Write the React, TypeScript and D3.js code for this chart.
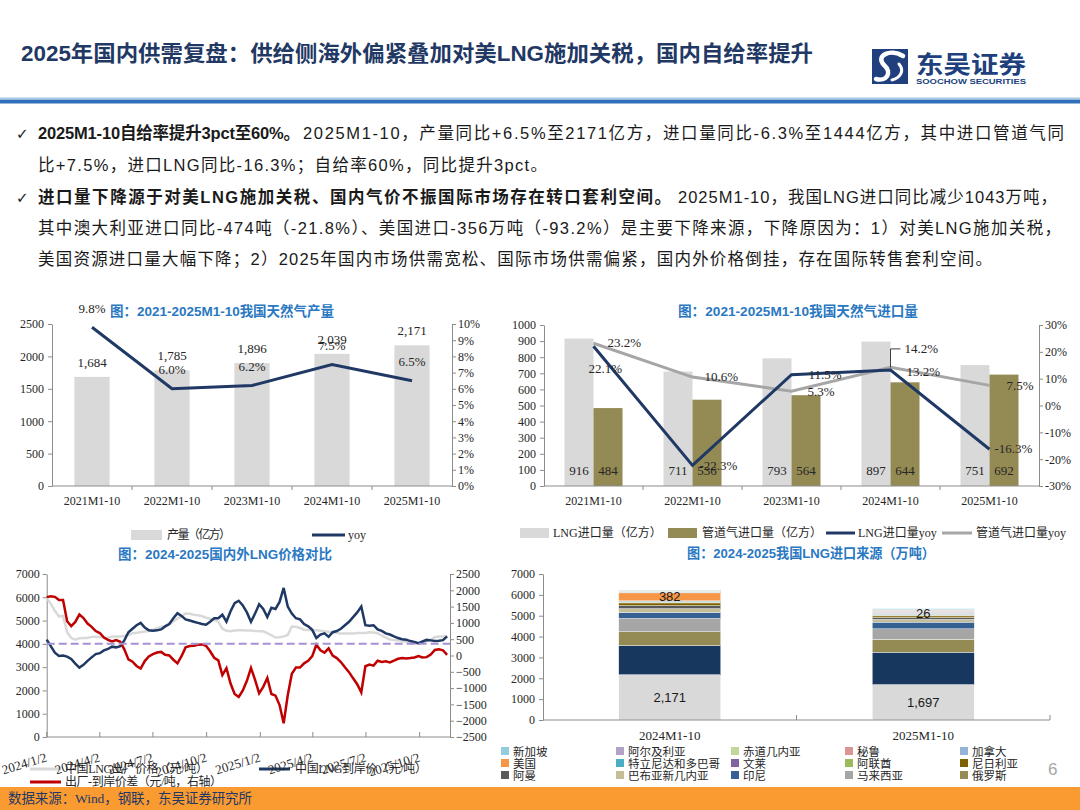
import React, { useEffect, useRef } from "react";
import * as d3 from "d3";

const SERIF = "'Liberation Serif', 'Times New Roman', 'Noto Sans CJK SC', serif";
const SANS = "'Liberation Sans', Arial, 'Noto Sans CJK SC', sans-serif";
const INK = "#262626";
const AXIS = "#8c8c8c";
const NAVY = "#1f3864";
const TITLE_BLUE = "#2a78c2";
const LOGO = "#203f7d";
const plain = d3.format("d");

// ---------- page text
const pageTitle = "2025年国内供需复盘：供给侧海外偏紧叠加对美LNG施加关税，国内自给率提升";
const bullet1Bold = "2025M1-10自给率提升3pct至60%。";
const bullet1Rest = "2025M1-10，产量同比+6.5%至2171亿方，进口量同比-6.3%至1444亿方，其中进口管道气同";
const bullet1Next = "比+7.5%，进口LNG同比-16.3%；自给率60%，同比提升3pct。";
const bullet2Bold = "进口量下降源于对美LNG施加关税、国内气价不振国际市场存在转口套利空间。";
const bullet2Rest = "2025M1-10，我国LNG进口同比减少1043万吨，";
const bullet2Next = "其中澳大利亚进口同比-474吨（-21.8%）、美国进口-356万吨（-93.2%）是主要下降来源，下降原因为：1）对美LNG施加关税，";
const bullet2Last = "美国资源进口量大幅下降；2）2025年国内市场供需宽松、国际市场供需偏紧，国内外价格倒挂，存在国际转售套利空间。";
const sourceNote = "数据来源：Wind，钢联，东吴证券研究所";

// ---------- chart 1: output
const years = ["2021M1-10", "2022M1-10", "2023M1-10", "2024M1-10", "2025M1-10"];
const output = [1684, 1785, 1896, 2039, 2171];
const outputYoy = [9.8, 6.0, 6.2, 7.5, 6.5];

// ---------- chart 2: imports
const lngImport = [916, 711, 793, 897, 751];
const pipeImport = [484, 536, 564, 644, 692];
const lngYoy = [22.1, -22.3, 11.5, 13.2, -16.3];
const pipeYoy = [23.2, 10.6, 5.3, 14.2, 7.5];

// ---------- chart 3: prices (weekly samples)
const priceDates = [
  "2024-01-02", "2024-01-09", "2024-01-16", "2024-01-23", "2024-01-30", "2024-02-06", "2024-02-13", "2024-02-20", "2024-02-27", "2024-03-05",
  "2024-03-12", "2024-03-19", "2024-03-26", "2024-04-02", "2024-04-09", "2024-04-16", "2024-04-23", "2024-04-30", "2024-05-07", "2024-05-14",
  "2024-05-21", "2024-05-28", "2024-06-04", "2024-06-11", "2024-06-18", "2024-06-25", "2024-07-02", "2024-07-09", "2024-07-16", "2024-07-23",
  "2024-07-30", "2024-08-06", "2024-08-13", "2024-08-20", "2024-08-27", "2024-09-03", "2024-09-10", "2024-09-17", "2024-09-24", "2024-10-01",
  "2024-10-08", "2024-10-15", "2024-10-22", "2024-10-29", "2024-11-05", "2024-11-12", "2024-11-19", "2024-11-26", "2024-12-03", "2024-12-10",
  "2024-12-17", "2024-12-24", "2024-12-31", "2025-01-07", "2025-01-14", "2025-01-21", "2025-01-28", "2025-02-04", "2025-02-11", "2025-02-18",
  "2025-02-25", "2025-03-04", "2025-03-11", "2025-03-18", "2025-03-25", "2025-04-01", "2025-04-08", "2025-04-15", "2025-04-22", "2025-04-29",
  "2025-05-06", "2025-05-13", "2025-05-20", "2025-05-27", "2025-06-03", "2025-06-10", "2025-06-17", "2025-06-24", "2025-07-01", "2025-07-08",
  "2025-07-15", "2025-07-22", "2025-07-29", "2025-08-05", "2025-08-12", "2025-08-19", "2025-08-26", "2025-09-02", "2025-09-09", "2025-09-16",
  "2025-09-23", "2025-09-30", "2025-10-07", "2025-10-14", "2025-10-21", "2025-10-28", "2025-11-04", "2025-11-11", "2025-11-18",
];
const exFactory = [
  5970, 5720, 5420, 5180, 5200, 4500, 4250, 4180, 4240, 4250,
  4250, 4300, 4310, 4290, 4270, 4260, 4310, 4320, 4320, 4340,
  4380, 4460, 4480, 4500, 4530, 4550, 4600, 4670, 4730, 4770,
  4850, 4970, 5080, 5180, 5300, 5290, 5250, 5230, 5190, 5120,
  5080, 5030, 4950, 4650, 4560, 4540, 4570, 4580, 4580, 4575,
  4570, 4550, 4540, 4540, 4460, 4370, 4270, 4280, 4320, 4380,
  4740, 4730, 4680, 4610, 4590, 4580, 4580, 4560, 4540, 4520,
  4500, 4470, 4450, 4440, 4440, 4450, 4470, 4470, 4470, 4500,
  4490, 4460, 4360, 4270, 4190, 4160, 4150, 4120, 4090, 4040,
  4020, 4010, 4040, 4120, 4180, 4290, 4320, 4320, 4340,
];
const landed = [
  4180, 3900, 3620, 3480, 3500, 3450, 3350, 3150, 2980, 3100,
  3270, 3420, 3560, 3600, 3720, 3780, 3880, 3850, 3900, 4150,
  4500, 4650, 4800, 4900, 4700, 4580, 4560, 4580, 4620, 4750,
  4850, 5100, 5320, 5200, 5050, 5000, 4950, 4900, 4850, 4820,
  4950, 5100, 5100, 5250, 4950, 5400, 5750, 5850, 5650, 5350,
  4950, 5300, 5700, 5500, 5150, 5550, 5500, 5800, 6400, 5600,
  5300, 5100, 5050, 4850, 4750, 4600, 4250, 4400, 4450, 4300,
  4500, 4550, 4650, 4800, 4950, 5150, 5350, 5600, 4800, 4780,
  4800, 4620, 4560, 4450, 4400, 4320, 4250, 4200, 4180, 4120,
  4080, 4030, 4100, 4170, 4150, 4120, 4130, 4160, 4320,
];
const priceRefLevel = 4000;
const priceTickDates = ["2024-01-02", "2024-04-02", "2024-07-02", "2024-10-02", "2025-01-02", "2025-04-02", "2025-07-02", "2025-10-02"];
const priceTickLabels = ["2024/1/2", "2024/4/2", "2024/7/2", "2024/10/2", "2025/1/2", "2025/4/2", "2025/7/2", "2025/10/2"];

// ---------- chart 4: LNG sources (stack order bottom -> top)
const sourcePeriods = ["2024M1-10", "2025M1-10"];
const sources = ["澳大利亚", "卡塔尔", "俄罗斯", "马来西亚", "印尼", "巴布亚新几内亚", "阿曼", "尼日利亚", "阿联酋", "文莱", "特立尼达和多巴哥", "美国", "加拿大", "秘鲁", "赤道几内亚", "阿尔及利亚", "新加坡"];
const sources2024 = [2171, 1400, 657, 640, 290, 180, 145, 130, 40, 30, 30, 382, 40, 20, 30, 20, 20];
const sources2025 = [1697, 1550, 624, 500, 320, 130, 90, 80, 40, 30, 20, 26, 60, 50, 40, 40, 40];
const sourceColors = ["#d9d9d9", "#17375e", "#948a54", "#a6a6a6", "#376092", "#c4bd97", "#595959", "#7f6000", "#9bbb59", "#8064a2", "#4bacc6", "#f79646", "#95b3d7", "#d99694", "#c3d69b", "#b3a2c7", "#93cddd"];
const labelledSources = ["澳大利亚", "美国"];

type G = d3.Selection<any, unknown, null, undefined>;

function text(g: G, x: number, y: number, s: string, o: any = {}) {
  const t = g.append("text").attr("x", x).attr("y", y).text(s)
    .attr("font-size", o.size ?? 12)
    .attr("fill", o.fill ?? INK)
    .attr("font-family", o.family ?? SERIF)
    .attr("text-anchor", o.anchor ?? "start");
  if (o.weight) t.attr("font-weight", o.weight);
  if (o.len) t.attr("textLength", o.len).attr("lengthAdjust", o.adjust ?? "spacing");
  return t;
}

function chartTitle(g: G, x: number, y: number, s: string, len: number) {
  text(g, x, y, s, { size: 13.5, fill: TITLE_BLUE, family: SANS, weight: "bold", len, adjust: "spacingAndGlyphs" });
}

function styleAxis(a: G, size = 12) {
  a.attr("font-family", SERIF).attr("font-size", size);
  a.select(".domain").attr("stroke", AXIS);
  a.selectAll(".tick line").attr("stroke", AXIS);
  a.selectAll(".tick text").attr("fill", INK);
}

function drawHeader(svg: G) {
  const g = svg.append("g");
  text(g, 21, 61, pageTitle, { size: 22, weight: "bold", fill: NAVY, family: SANS, len: 792, adjust: "spacingAndGlyphs" });

  // logo
  g.append("rect").attr("x", 872).attr("y", 49).attr("width", 36).attr("height", 35).attr("fill", LOGO);
  g.append("path").attr("d", "M903,56 C890,48 875,56 884,65 C893,73 886,82 876,79")
    .attr("fill", "none").attr("stroke", "#fff").attr("stroke-width", 4.5).attr("stroke-linecap", "round");
  g.append("path").attr("d", "M899,64 C905,71 900,78 892,80")
    .attr("fill", "none").attr("stroke", "#fff").attr("stroke-width", 3).attr("stroke-linecap", "round");
  text(g, 916, 73, "东吴证券", { size: 24, weight: "bold", fill: LOGO, family: SANS, len: 110, adjust: "spacingAndGlyphs" });
  text(g, 916, 84, "SOOCHOW SECURITIES", { size: 8, weight: "bold", fill: LOGO, family: SANS, len: 110, adjust: "spacingAndGlyphs" });

  g.append("rect").attr("x", 0).attr("y", 97.5).attr("width", 1080).attr("height", 1.5).attr("fill", "#a9c8ea");
  g.append("rect").attr("x", 0).attr("y", 99.5).attr("width", 1080).attr("height", 4).attr("fill", "#2e6fba");

  // bullets
  const body = { size: 16.5, family: SANS, fill: "#1a1a1a" };
  text(g, 16, 139, "✓", { ...body, family: "'DejaVu Sans', sans-serif", size: 15 });
  text(g, 16, 203, "✓", { ...body, family: "'DejaVu Sans', sans-serif", size: 15 });
  text(g, 38, 139, bullet1Bold, { ...body, weight: "bold", len: 262 });
  text(g, 303, 139, bullet1Rest, { ...body, len: 761 });
  text(g, 38, 171, bullet1Next, { ...body, len: 509 });
  text(g, 38, 203, bullet2Bold, { ...body, weight: "bold", len: 633 });
  text(g, 678, 203, bullet2Rest, { ...body, len: 379 });
  text(g, 38, 234, bullet2Next, { ...body, len: 1023 });
  text(g, 38, 265, bullet2Last, { ...body, len: 954 });

  // footer
  g.append("rect").attr("x", 0).attr("y", 787).attr("width", 1080).attr("height", 23).attr("fill", "#f99b30");
  text(g, 8, 803, sourceNote, { size: 13.5, fill: NAVY, len: 244 });
  text(g, 1048, 775, "6", { size: 17, fill: "#a6a6a6", family: SANS });
}

function drawOutput(svg: G) {
  const g = svg.append("g");
  const x = d3.scaleBand<string>().domain(years).range([52, 452]);
  const y = d3.scaleLinear().domain([0, 2500]).range([486, 324]);
  const yr = d3.scaleLinear().domain([0, 10]).range([486, 324]);
  const cx = (d: string) => (x(d) as number) + x.bandwidth() / 2;
  const bw = x.bandwidth() * 0.44;

  chartTitle(g, 110, 316, "图：2021-2025M1-10我国天然气产量", 224);

  g.selectAll("rect.bar").data(years).join("rect")
    .attr("x", (d) => cx(d) - bw / 2).attr("width", bw)
    .attr("y", (_, i) => y(output[i])).attr("height", (_, i) => 486 - y(output[i]))
    .attr("fill", "#d9d9d9");

  styleAxis(g.append("g").attr("transform", "translate(52,0)")
    .call(d3.axisLeft(y).tickValues(d3.range(0, 2501, 500)).tickFormat(plain as any).tickSize(4).tickSizeOuter(0).tickPadding(4)) as any);
  styleAxis(g.append("g").attr("transform", "translate(452,0)")
    .call(d3.axisRight(yr).tickValues(d3.range(0, 11, 1)).tickFormat((d) => `${d}%`).tickSize(4).tickSizeOuter(0).tickPadding(2)) as any);

  g.append("line").attr("x1", 52).attr("x2", 452).attr("y1", 486).attr("y2", 486).attr("stroke", AXIS);
  years.slice(1).forEach((d) => {
    g.append("line").attr("x1", x(d)!).attr("x2", x(d)!).attr("y1", 486).attr("y2", 490).attr("stroke", AXIS);
  });
  years.forEach((d) => text(g, cx(d), 505, d, { anchor: "middle" }));

  const line = d3.line<number>().x((_, i) => cx(years[i])).y((v) => yr(v));
  g.append("path").attr("d", line(outputYoy)!).attr("fill", "none").attr("stroke", NAVY).attr("stroke-width", 3);

  years.forEach((d, i) => {
    text(g, cx(d), y(output[i]) - 10, d3.format(",")(output[i]), { size: 13, anchor: "middle" });
    text(g, cx(d), yr(outputYoy[i]) - 14.5, `${outputYoy[i].toFixed(1)}%`, { size: 13, anchor: "middle" });
  });

  // legend
  g.append("rect").attr("x", 131).attr("y", 530).attr("width", 31).attr("height", 10).attr("fill", "#d9d9d9");
  text(g, 167, 539, "产量（亿方）", { size: 12, len: 64 });
  g.append("line").attr("x1", 312).attr("x2", 345).attr("y1", 535).attr("y2", 535).attr("stroke", NAVY).attr("stroke-width", 3);
  text(g, 348, 539, "yoy", { size: 12 });
}

function drawImport(svg: G) {
  const g = svg.append("g");
  const x = d3.scaleBand<string>().domain(years).range([544, 1039]);
  const y = d3.scaleLinear().domain([0, 1000]).range([486, 325]);
  const yr = d3.scaleLinear().domain([-30, 30]).range([486, 325]);
  const cx = (d: string) => (x(d) as number) + x.bandwidth() / 2;
  const bw = 29;

  chartTitle(g, 678, 316, "图：2021-2025M1-10我国天然气进口量", 240);

  g.selectAll("rect.lng").data(years).join("rect")
    .attr("x", (d) => cx(d) - bw).attr("width", bw)
    .attr("y", (_, i) => y(lngImport[i])).attr("height", (_, i) => 486 - y(lngImport[i]))
    .attr("fill", "#d9d9d9");
  g.selectAll("rect.pipe").data(years).join("rect")
    .attr("x", (d) => cx(d)).attr("width", bw)
    .attr("y", (_, i) => y(pipeImport[i])).attr("height", (_, i) => 486 - y(pipeImport[i]))
    .attr("fill", "#948a54");

  styleAxis(g.append("g").attr("transform", "translate(544,0)")
    .call(d3.axisLeft(y).tickValues(d3.range(0, 1001, 100)).tickFormat(plain as any).tickSize(4).tickSizeOuter(0).tickPadding(4)) as any);
  styleAxis(g.append("g").attr("transform", "translate(1039,0)")
    .call(d3.axisRight(yr).tickValues(d3.range(-30, 31, 10)).tickFormat((d) => `${d}%`).tickSize(4).tickSizeOuter(0).tickPadding(2)) as any);

  g.append("line").attr("x1", 544).attr("x2", 1039).attr("y1", 486).attr("y2", 486).attr("stroke", AXIS);
  years.slice(1).forEach((d) => {
    g.append("line").attr("x1", x(d)!).attr("x2", x(d)!).attr("y1", 486).attr("y2", 490).attr("stroke", AXIS);
  });
  years.forEach((d) => text(g, cx(d), 505, d, { anchor: "middle" }));

  years.forEach((d, i) => {
    text(g, cx(d) - bw / 2, 475, String(lngImport[i]), { size: 13, anchor: "middle" });
    text(g, cx(d) + bw / 2, 475, String(pipeImport[i]), { size: 13, anchor: "middle" });
  });

  const line = (vals: number[]) => d3.line<number>().x((_, i) => cx(years[i])).y((v) => yr(v))(vals)!;
  g.append("path").attr("d", line(pipeYoy)).attr("fill", "none").attr("stroke", "#a6a6a6").attr("stroke-width", 3);
  g.append("path").attr("d", line(lngYoy)).attr("fill", "none").attr("stroke", NAVY).attr("stroke-width", 3);

  // label offsets (dx, dy from the point)
  const lngOff = [[-5, 27], [7, 5], [17, 4], [16, 5.5], [5, 4]];
  const pipeOff = [[14, 4], [12, 4], [16, 5], [14, -14], [17, 4.5]];
  years.forEach((d, i) => {
    const px = cx(d);
    text(g, px + lngOff[i][0], yr(lngYoy[i]) + lngOff[i][1], `${lngYoy[i].toFixed(1)}%`, { size: 13 });
    text(g, px + pipeOff[i][0], yr(pipeYoy[i]) + pipeOff[i][1], `${pipeYoy[i].toFixed(1)}%`, { size: 13 });
  });
  const lx = cx(years[3]);
  const ly = yr(pipeYoy[3]);
  g.append("path").attr("d", `M${lx},${ly} V${ly - 18.5} H${lx + 10}`).attr("fill", "none").attr("stroke", "#404040").attr("stroke-width", 1);

  // legend
  g.append("rect").attr("x", 520).attr("y", 528).attr("width", 29).attr("height", 10).attr("fill", "#d9d9d9");
  text(g, 553, 537, "LNG进口量（亿方）", { size: 12 });
  g.append("rect").attr("x", 668).attr("y", 528).attr("width", 29).attr("height", 10).attr("fill", "#948a54");
  text(g, 702, 537, "管道气进口量（亿方）", { size: 12 });
  g.append("line").attr("x1", 826).attr("x2", 855).attr("y1", 533).attr("y2", 533).attr("stroke", NAVY).attr("stroke-width", 3);
  text(g, 858, 537, "LNG进口量yoy", { size: 12 });
  g.append("line").attr("x1", 942).attr("x2", 972).attr("y1", 533).attr("y2", 533).attr("stroke", "#a6a6a6").attr("stroke-width", 3);
  text(g, 976, 537, "管道气进口量yoy", { size: 12 });
}

function drawPrice(svg: G) {
  const g = svg.append("g");
  const parse = d3.timeParse("%Y-%m-%d");
  const dates = priceDates.map((d) => parse(d) as Date);
  const x = d3.scaleTime().domain([parse("2024-01-02") as Date, parse("2025-11-23") as Date]).range([46.7, 450]);
  const yl = d3.scaleLinear().domain([0, 7000]).range([737, 574]);
  const yr = d3.scaleLinear().domain([-2500, 2500]).range([737, 574]);

  chartTitle(g, 118, 559, "图：2024-2025国内外LNG价格对比", 214);

  styleAxis(g.append("g").attr("transform", "translate(46.7,0)")
    .call(d3.axisLeft(yl).tickValues(d3.range(0, 7001, 1000)).tickFormat(plain as any).tickSize(4).tickSizeOuter(0).tickPadding(3)) as any);
  styleAxis(g.append("g").attr("transform", "translate(450,0)")
    .call(d3.axisRight(yr).tickValues(d3.range(-2500, 2501, 500)).tickFormat(plain as any).tickSize(4).tickSizeOuter(0).tickPadding(2)) as any);
  g.append("line").attr("x1", 46.7).attr("x2", 450).attr("y1", 737).attr("y2", 737).attr("stroke", AXIS);

  const lineL = d3.line<number>().x((_, i) => x(dates[i])).y((v) => yl(v));
  const spread = exFactory.map((v, i) => v - landed[i]);
  const lineR = d3.line<number>().x((_, i) => x(dates[i])).y((v) => yr(v));

  g.append("path").attr("d", lineL(exFactory)!).attr("fill", "none").attr("stroke", "#d9d9d9").attr("stroke-width", 2.5);
  g.append("path").attr("d", lineL(landed)!).attr("fill", "none").attr("stroke", NAVY).attr("stroke-width", 2.5);
  g.append("path").attr("d", lineR(spread)!).attr("fill", "none").attr("stroke", "#c00000").attr("stroke-width", 2.5);
  g.append("line").attr("x1", 46.7).attr("x2", 450).attr("y1", yl(priceRefLevel)).attr("y2", yl(priceRefLevel))
    .attr("stroke", "#a591d3").attr("stroke-width", 2).attr("stroke-dasharray", "8,4");

  // legend
  g.append("line").attr("x1", 30).attr("x2", 61).attr("y1", 769).attr("y2", 769).attr("stroke", "#d9d9d9").attr("stroke-width", 3);
  text(g, 65, 773, "中国LNG出厂价格（元/吨）", { size: 12, len: 143 });
  g.append("line").attr("x1", 259).attr("x2", 290).attr("y1", 769).attr("y2", 769).attr("stroke", NAVY).attr("stroke-width", 3);
  text(g, 295, 773, "中国LNG到岸价（元/吨）", { size: 12, len: 132 });
  g.append("line").attr("x1", 30).attr("x2", 61).attr("y1", 782).attr("y2", 782).attr("stroke", "#c00000").attr("stroke-width", 3);
  text(g, 65, 786, "出厂-到岸价差（元/吨，右轴）", { size: 12, len: 157 });

  // x ticks & rotated labels
  priceTickDates.forEach((d, i) => {
    const tx = x(parse(d) as Date);
    g.append("line").attr("x1", tx).attr("x2", tx).attr("y1", 737).attr("y2", 732).attr("stroke", AXIS);
    text(g, 0, 0, priceTickLabels[i], { size: 13, anchor: "end" })
      .attr("transform", `translate(${tx + 1},${761}) rotate(-17)`);
  });
}

function drawSources(svg: G) {
  const g = svg.append("g");
  const x = d3.scaleBand<string>().domain(sourcePeriods).range([543, 1050]);
  const y = d3.scaleLinear().domain([0, 7000]).range([720, 574]);
  const bw = 102;
  const color = d3.scaleOrdinal<string, string>().domain(sources).range(sourceColors);
  const valuesByPeriod = [sources2024, sources2025];
  const table = sourcePeriods.map((p, j) => {
    const row: any = { period: p };
    sources.forEach((s, k) => (row[s] = valuesByPeriod[j][k]));
    return row;
  });
  const stacked = d3.stack<any>().keys(sources)(table);
  const bx = (p: string) => (x(p) as number) + (x.bandwidth() - bw) / 2;

  chartTitle(g, 687, 558, "图：2024-2025我国LNG进口来源（万吨）", 248);

  stacked.forEach((layer) => {
    g.selectAll(null).data(layer).join("rect")
      .attr("x", (d: any) => bx(d.data.period)).attr("width", bw)
      .attr("y", (d: any) => y(d[1])).attr("height", (d: any) => y(d[0]) - y(d[1]))
      .attr("fill", color(layer.key))
      .attr("stroke", "#ffffff").attr("stroke-width", 0.4);
  });

  styleAxis(g.append("g").attr("transform", "translate(543,0)")
    .call(d3.axisLeft(y).tickValues(d3.range(0, 7001, 1000)).tickFormat(plain as any).tickSize(4).tickSizeOuter(0).tickPadding(4)) as any);
  g.append("line").attr("x1", 543).attr("x2", 1050).attr("y1", 720).attr("y2", 720).attr("stroke", AXIS);
  [x(sourcePeriods[1])!, 1050].forEach((tx) => {
    g.append("line").attr("x1", tx).attr("x2", tx).attr("y1", 720).attr("y2", 715).attr("stroke", AXIS);
  });
  sourcePeriods.forEach((p) => text(g, (x(p) as number) + x.bandwidth() / 2, 740, p, { size: 13, anchor: "middle" }));

  stacked.filter((l) => labelledSources.includes(l.key)).forEach((layer) => {
    layer.forEach((d: any) => {
      text(g, bx(d.data.period) + bw / 2, (y(d[0]) + y(d[1])) / 2 + 4.5, d3.format(",")(d[1] - d[0]),
        { size: 13, family: SANS, fill: "#1a1a1a", anchor: "middle" });
    });
  });

  // legend: top of stack first, Australia / Qatar not shown
  const legendItems = sources.slice(2).reverse();
  const cols = [501, 616, 731, 845, 960];
  const rows = [751, 763, 775];
  legendItems.forEach((s, i) => {
    const lx = cols[i % 5];
    const ly = rows[Math.floor(i / 5)];
    g.append("rect").attr("x", lx).attr("y", ly - 4).attr("width", 8).attr("height", 8).attr("fill", color(s));
    text(g, lx + 12, ly + 4.5, s, { size: 11.5 });
  });
}

export default function App() {
  const ref = useRef<SVGSVGElement>(null);

  useEffect(() => {
    document.body.style.margin = "0";
    const svg = d3.select(ref.current) as any;
    svg.selectAll("*").remove();
    svg.append("rect").attr("width", 1080).attr("height", 810).attr("fill", "#ffffff");
    drawHeader(svg);
    drawOutput(svg);
    drawImport(svg);
    drawPrice(svg);
    drawSources(svg);
  }, []);

  return <svg ref={ref} width={1080} height={810} style={{ display: "block" }} />;
}
